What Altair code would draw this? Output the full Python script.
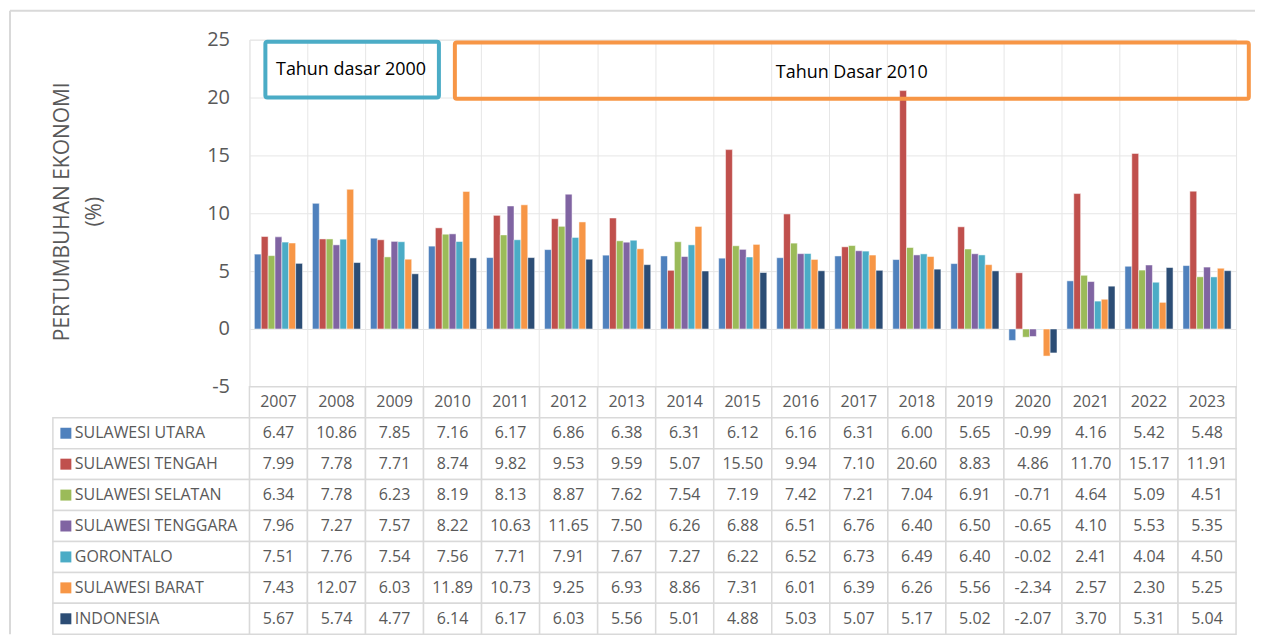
import altair as alt
import pandas as pd

years = [str(y) for y in range(2007, 2024)]
series = ["SULAWESI UTARA", "SULAWESI TENGAH", "SULAWESI SELATAN",
          "SULAWESI TENGGARA", "GORONTALO", "SULAWESI BARAT", "INDONESIA"]
colors = ["#4F81BD", "#C0504D", "#9BBB59", "#8064A2", "#4BACC6", "#F79646", "#2C4D75"]

sulut = [6.47, 10.86, 7.85, 7.16, 6.17, 6.86, 6.38, 6.31, 6.12, 6.16, 6.31, 6.00, 5.65, -0.99, 4.16, 5.42, 5.48]
sulteng = [7.99, 7.78, 7.71, 8.74, 9.82, 9.53, 9.59, 5.07, 15.50, 9.94, 7.10, 20.60, 8.83, 4.86, 11.70, 15.17, 11.91]
sulsel = [6.34, 7.78, 6.23, 8.19, 8.13, 8.87, 7.62, 7.54, 7.19, 7.42, 7.21, 7.04, 6.91, -0.71, 4.64, 5.09, 4.51]
sultra = [7.96, 7.27, 7.57, 8.22, 10.63, 11.65, 7.50, 6.26, 6.88, 6.51, 6.76, 6.40, 6.50, -0.65, 4.10, 5.53, 5.35]
gorontalo = [7.51, 7.76, 7.54, 7.56, 7.71, 7.91, 7.67, 7.27, 6.22, 6.52, 6.73, 6.49, 6.40, -0.02, 2.41, 4.04, 4.50]
sulbar = [7.43, 12.07, 6.03, 11.89, 10.73, 9.25, 6.93, 8.86, 7.31, 6.01, 6.39, 6.26, 5.56, -2.34, 2.57, 2.30, 5.25]
indonesia = [5.67, 5.74, 4.77, 6.14, 6.17, 6.03, 5.56, 5.01, 4.88, 5.03, 5.07, 5.17, 5.02, -2.07, 3.70, 5.31, 5.04]
values = [sulut, sulteng, sulsel, sultra, gorontalo, sulbar, indonesia]

y_ticks = [-5, 0, 5, 10, 15, 20, 25]
y_title = ["PERTUMBUHAN EKONOMI", "(%)"]

# annotation boxes (in category-index units along x, data units along y)
box_x0 = [0.275, 3.54]
box_x1 = [3.265, 17.22]
box_y0 = [24.83, 24.75]
box_y1 = [20.0, 19.9]
box_col = ["#4BACC6", "#F79646"]
note_x = [1.75, 10.38]
note_y = [22.4, 22.15]
note_txt = ["Tahun dasar 2000", "Tahun Dasar 2010"]

FONT = "Open Sans"
GRAY = "#595959"
GRID = "#e6e6e6"
TBL = "#d9d9d9"
W = 989
H_PLOT = 348
ROW_H = 31
H_TABLE = ROW_H * 8

rows = []
for s, vals in zip(series, values):
    for y, v in zip(years, vals):
        rows.append({"year": y, "series": s, "value": v})
df = pd.DataFrame(rows)

bars = alt.Chart(df).mark_bar(stroke="white", strokeWidth=0.5).encode(
    x=alt.X("year:N", sort=years,
            scale=alt.Scale(paddingInner=0, paddingOuter=0),
            axis=alt.Axis(labels=False, ticks=False, domain=False, grid=True,
                          gridColor=GRID, gridWidth=1, bandPosition=0, title=None)),
    xOffset=alt.XOffset("series:N", sort=series,
                        scale=alt.Scale(paddingInner=0, paddingOuter=0.72)),
    y=alt.Y("value:Q",
            scale=alt.Scale(domain=[-5, 25], nice=False, zero=False),
            axis=alt.Axis(values=y_ticks, title=y_title, ticks=False, tickSize=0,
                          domain=False, grid=True, gridColor=GRID, gridWidth=1,
                          labelExpr="'' + datum.value",
                          labelFont=FONT, labelFontSize=20, labelColor=GRAY,
                          labelPadding=20,
                          titleFont=FONT, titleFontSize=21, titleFontWeight="normal",
                          titleColor=GRAY, titleAngle=270, titleAlign="center",
                          titleBaseline="middle", titleX=-187, titleY=H_PLOT / 2 - 2,
                          titleLineHeight=32)),
    color=alt.Color("series:N", sort=series,
                    scale=alt.Scale(domain=series, range=colors), legend=None),
)

ann_x = alt.Scale(domain=[0, 17], nice=False, zero=False)
boxes_df = pd.DataFrame({"x0": box_x0, "x1": box_x1, "y0": box_y0, "y1": box_y1, "col": box_col})
boxes = alt.Chart(boxes_df).mark_rect(fill="transparent", strokeWidth=4, cornerRadius=2).encode(
    x=alt.X("x0:Q", scale=ann_x, axis=None),
    x2="x1:Q",
    y=alt.Y("y0:Q", axis=None),
    y2="y1:Q",
    stroke=alt.Stroke("col:N", scale=None),
)
notes_df = pd.DataFrame({"tx": note_x, "ty": note_y, "txt": note_txt})
notes = alt.Chart(notes_df).mark_text(font=FONT, fontSize=18, color="#000000",
                                      align="center", baseline="middle").encode(
    x=alt.X("tx:Q", scale=ann_x, axis=None),
    y=alt.Y("ty:Q", axis=None),
    text="txt:N",
)

one = pd.DataFrame({"k": [0]})
left_border = alt.Chart(one).mark_rule(color=TBL, strokeWidth=2).encode(
    x=alt.value(-240), y=alt.value(-29), y2=alt.value(H_PLOT + H_TABLE))
top_border = alt.Chart(one).mark_rule(color=TBL, strokeWidth=2).encode(
    x=alt.value(-240), x2=alt.value(1008), y=alt.value(-29))

top = alt.layer(bars, boxes, notes, left_border, top_border).resolve_scale(
    x="independent").resolve_axis(y="independent").properties(
    width=W, height=H_PLOT, view=alt.ViewBackground(stroke=GRID, strokeWidth=1))

# ---- data table ----
HDR = "HDR"
row_domain = [HDR] + series
cell_rows = []
for y in years:
    cell_rows.append({"year": y, "row": HDR, "txt": y})
for s, vals in zip(series, values):
    for y, v in zip(years, vals):
        cell_rows.append({"year": y, "row": s, "txt": f"{v:.2f}"})
cell_df = pd.DataFrame(cell_rows)
label_df = pd.DataFrame({"row": series})

tbl_x = alt.X("year:N", sort=years, scale=alt.Scale(paddingInner=0, paddingOuter=0), axis=None)
tbl_y = alt.Y("row:N", sort=row_domain,
              scale=alt.Scale(domain=row_domain, paddingInner=0, paddingOuter=0), axis=None)

cells = alt.Chart(cell_df).mark_rect(fill="white", stroke=TBL, strokeWidth=1.5).encode(
    x=tbl_x, y=tbl_y)
cell_text = alt.Chart(cell_df).mark_text(font=FONT, fontSize=16, color=GRAY,
                                         align="center", baseline="middle").encode(
    x=tbl_x, y=tbl_y, text="txt:N")
label_cells = alt.Chart(label_df).mark_rect(fill="white", stroke=TBL, strokeWidth=1.5).encode(
    x=alt.value(-197), x2=alt.value(0), y=tbl_y)
squares = alt.Chart(label_df).mark_square(size=121, opacity=1).encode(
    x=alt.value(-184), y=tbl_y,
    color=alt.Color("row:N", scale=alt.Scale(domain=series, range=colors), legend=None))
label_text = alt.Chart(label_df).mark_text(font=FONT, fontSize=16, color=GRAY,
                                           align="left", baseline="middle").encode(
    x=alt.value(-175), y=tbl_y, text="row:N")

table = alt.layer(cells, cell_text, label_cells, squares, label_text).properties(
    width=W, height=H_TABLE, view=alt.ViewBackground(stroke="transparent"))

chart = alt.vconcat(top, table, spacing=0, bounds="flush").resolve_scale(
    x="independent", y="independent", color="independent").properties(
    padding=0, background="white").configure(font=FONT)

chart.save("out.html", embed_options={"renderer": "svg", "actions": False})
